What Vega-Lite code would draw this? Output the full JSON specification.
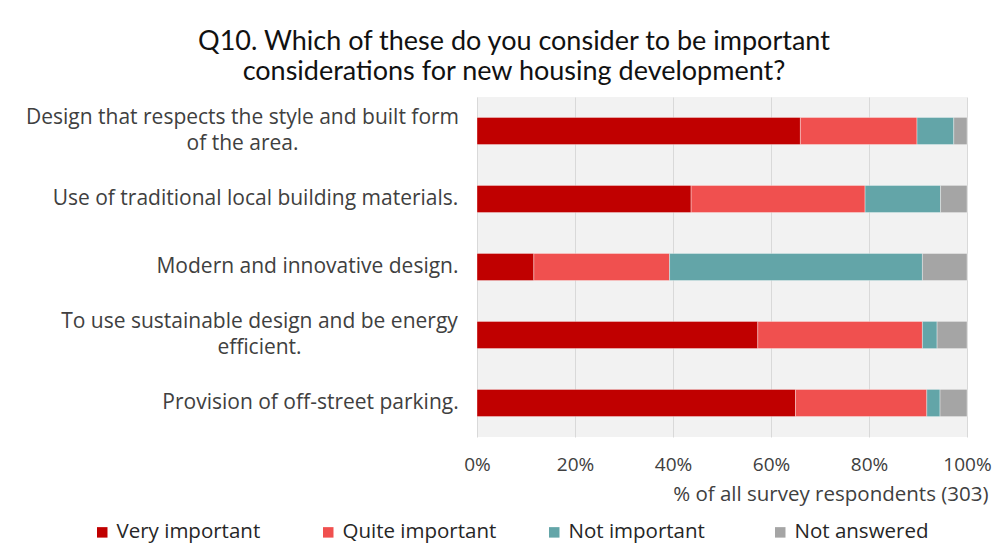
{
  "$schema": "https://vega.github.io/schema/vega-lite/v6.json",
  "width": 490,
  "height": 340,
  "autosize": {"type": "none"},
  "padding": {"left": 477, "top": 97, "right": 38, "bottom": 114},
  "background": "white",
  "title": {
    "text": ["Q10. Which of these do you consider to be important", "considerations for new housing development?"],
    "anchor": "middle",
    "frame": "group",
    "dx": -208,
    "offset": 11,
    "font": "Lato",
    "fontSize": 27,
    "fontWeight": "normal",
    "lineHeight": 30,
    "color": "#111111"
  },
  "data": {
    "values": [
      {"q": "Design that respects the style and built form of the area.", "r": "Very important", "o": 1, "pct": 66.0},
      {"q": "Design that respects the style and built form of the area.", "r": "Quite important", "o": 2, "pct": 23.8},
      {"q": "Design that respects the style and built form of the area.", "r": "Not important", "o": 3, "pct": 7.5},
      {"q": "Design that respects the style and built form of the area.", "r": "Not answered", "o": 4, "pct": 2.7},
      {"q": "Use of traditional local building materials.", "r": "Very important", "o": 1, "pct": 43.7},
      {"q": "Use of traditional local building materials.", "r": "Quite important", "o": 2, "pct": 35.5},
      {"q": "Use of traditional local building materials.", "r": "Not important", "o": 3, "pct": 15.4},
      {"q": "Use of traditional local building materials.", "r": "Not answered", "o": 4, "pct": 5.4},
      {"q": "Modern and innovative design.", "r": "Very important", "o": 1, "pct": 11.6},
      {"q": "Modern and innovative design.", "r": "Quite important", "o": 2, "pct": 27.7},
      {"q": "Modern and innovative design.", "r": "Not important", "o": 3, "pct": 51.6},
      {"q": "Modern and innovative design.", "r": "Not answered", "o": 4, "pct": 9.1},
      {"q": "To use sustainable design and be energy efficient.", "r": "Very important", "o": 1, "pct": 57.3},
      {"q": "To use sustainable design and be energy efficient.", "r": "Quite important", "o": 2, "pct": 33.6},
      {"q": "To use sustainable design and be energy efficient.", "r": "Not important", "o": 3, "pct": 3.0},
      {"q": "To use sustainable design and be energy efficient.", "r": "Not answered", "o": 4, "pct": 6.1},
      {"q": "Provision of off-street parking.", "r": "Very important", "o": 1, "pct": 65.0},
      {"q": "Provision of off-street parking.", "r": "Quite important", "o": 2, "pct": 26.8},
      {"q": "Provision of off-street parking.", "r": "Not important", "o": 3, "pct": 2.7},
      {"q": "Provision of off-street parking.", "r": "Not answered", "o": 4, "pct": 5.5}
    ]
  },
  "mark": {"type": "bar", "stroke": "#ffffff", "strokeWidth": 0.6, "strokeOpacity": 0.6},
  "encoding": {
    "y": {
      "field": "q",
      "type": "nominal",
      "sort": null,
      "scale": {"paddingInner": 0.6, "paddingOuter": 0.3},
      "axis": {
        "title": null,
        "domain": false,
        "ticks": false,
        "labelFont": "Open Sans",
        "labelFontSize": 21,
        "labelColor": "#404040",
        "labelAlign": "center",
        "labelPadding": {
          "condition": [
            {"test": "datum.value == 'Design that respects the style and built form of the area.'", "value": 235},
            {"test": "datum.value == 'Use of traditional local building materials.'", "value": 222},
            {"test": "datum.value == 'Modern and innovative design.'", "value": 170},
            {"test": "datum.value == 'To use sustainable design and be energy efficient.'", "value": 218}
          ],
          "value": 167
        },
        "labelOffset": {
          "condition": {"test": "datum.value == 'Design that respects the style and built form of the area.' || datum.value == 'To use sustainable design and be energy efficient.'", "value": -13},
          "value": 0
        },
        "labelLimit": 500,
        "labelLineHeight": 26,
        "labelExpr": "datum.label == 'Design that respects the style and built form of the area.' ? ['Design that respects the style and built form', 'of the area.'] : datum.label == 'To use sustainable design and be energy efficient.' ? ['To use sustainable design and be energy', 'efficient.'] : datum.label"
      }
    },
    "x": {
      "field": "pct",
      "type": "quantitative",
      "stack": "normalize",
      "scale": {"domain": [0, 1]},
      "axis": {
        "title": "% of all survey respondents (303)",
        "format": ".0%",
        "values": [0, 0.2, 0.4, 0.6, 0.8, 1],
        "domain": false,
        "ticks": false,
        "grid": true,
        "gridColor": "#D9D9D9",
        "gridWidth": 1,
        "labelFont": "Open Sans",
        "labelFontSize": 19,
        "labelColor": "#404040",
        "labelPadding": 18,
        "labelFlush": false,
        "titleFont": "Open Sans",
        "titleFontSize": 20.5,
        "titleFontWeight": "normal",
        "titleColor": "#404040",
        "titleAnchor": "end",
        "titleAlign": "right",
        "titleBaseline": "middle",
        "titleX": 511,
        "titleY": 57
      }
    },
    "color": {
      "field": "r",
      "type": "nominal",
      "scale": {
        "domain": ["Very important", "Quite important", "Not important", "Not answered"],
        "range": ["#C00000", "#F0504F", "#63A5A8", "#A5A5A5"]
      },
      "legend": {
        "title": null,
        "orient": "none",
        "direction": "horizontal",
        "legendX": -385,
        "legendY": 425,
        "symbolType": "square",
        "symbolSize": 110,
        "symbolStrokeWidth": 0,
        "labelFont": "Open Sans",
        "labelFontSize": 20.5,
        "labelColor": "#262626",
        "labelOffset": 4,
        "labelLimit": 300,
        "gridAlign": "all",
        "columnPadding": 47
      }
    },
    "order": {"field": "o", "type": "quantitative"}
  },
  "config": {
    "view": {"stroke": null, "fill": "#F2F2F2"}
  }
}
